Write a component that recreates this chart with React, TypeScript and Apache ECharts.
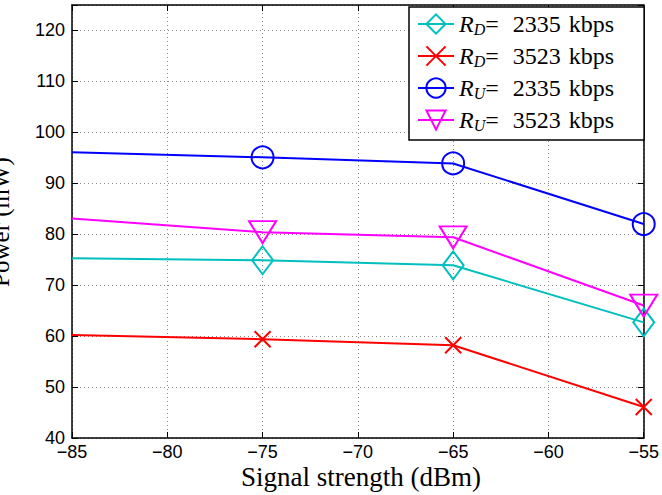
import React, { useEffect, useRef } from "react";
import * as echarts from "echarts";

const xValues = [-85, -75, -65, -55];
const rdLow = [75.3, 74.9, 73.9, 62.7];
const rdHigh = [60.2, 59.4, 58.2, 46.1];
const ruLow = [96.1, 95.1, 93.9, 82.0];
const ruHigh = [83.1, 80.4, 79.4, 66.0];
const seriesNames = ["RD2335", "RD3523", "RU2335", "RU3523"];
const legendSub = ["D", "D", "U", "U"];
const legendRate = ["2335", "3523", "2335", "3523"];
const xTicks = [-85, -80, -75, -70, -65, -60, -55];
const yTicks = [40, 50, 60, 70, 80, 90, 100, 110, 120];

const SERIF = "Liberation Serif";
const SANS = "Liberation Sans";

function toData(vals: number[]) {
  return vals.map((v, i) =>
    i === 0 ? { value: [xValues[i], v], symbol: "none" } : { value: [xValues[i], v] }
  );
}

export default function App() {
  const ref = useRef<HTMLDivElement>(null);
  useEffect(() => {
    if (!ref.current) return;
    const chart = echarts.init(ref.current, undefined, { renderer: "svg" });
    const mk = (
      name: string,
      vals: number[],
      color: string,
      symbol: string,
      size: any,
      rotate = 0
    ) => ({
      type: "line",
      name,
      data: toData(vals),
      clip: false,
      symbol,
      symbolSize: size,
      symbolRotate: rotate,
      showAllSymbol: true,
      lineStyle: { color, width: 2 },
      itemStyle: { color: "rgba(0,0,0,0)", borderColor: color, borderWidth: 2 },
      emphasis: { disabled: true },
    });
    const axisLine = { show: true, onZero: false, lineStyle: { color: "#000", width: 1.5 } };
    const tick = { show: true, inside: true, length: 6, lineStyle: { color: "#000", width: 1 } };
    const split = { show: true, lineStyle: { color: "#888", type: [1, 3], width: 1 } };
    const txt = { fontFamily: SERIF, fontSize: 24, lineHeight: 26, color: "#000" };
    chart.setOption({
      animation: false,
      backgroundColor: "#fff",
      grid: { left: 72, right: 11, top: 5, bottom: 57, containLabel: false },
      xAxis: [
        {
          type: "value",
          position: "bottom",
          min: xTicks[0],
          max: xTicks[xTicks.length - 1],
          interval: 5,
          axisLine,
          axisTick: tick,
          splitLine: split,
          axisLabel: {
            margin: 5,
            color: "#000",
            fontFamily: SANS,
            fontSize: 18,
            formatter: (v: number) => String(v).replace("-", "\u2212"),
          },
        },
        {
          type: "value",
          position: "top",
          min: xTicks[0],
          max: xTicks[xTicks.length - 1],
          interval: 5,
          axisLine,
          axisTick: tick,
          splitLine: { show: false },
          axisLabel: { show: false },
        },
      ],
      yAxis: [
        {
          type: "value",
          position: "left",
          min: yTicks[0],
          max: 125,
          interval: 10,
          axisLine,
          axisTick: tick,
          splitLine: split,
          axisLabel: {
            margin: 7,
            color: "#000",
            fontFamily: SANS,
            fontSize: 18,
            formatter: (v: number) => (yTicks.includes(v) ? String(v) : ""),
          },
        },
        {
          type: "value",
          position: "right",
          min: yTicks[0],
          max: 125,
          interval: 10,
          axisLine,
          axisTick: tick,
          splitLine: { show: false },
          axisLabel: { show: false },
        },
      ],
      legend: {
        orient: "vertical",
        left: 409,
        top: 7,
        padding: [5, 30, 7, 8],
        itemGap: 7,
        itemWidth: 36,
        itemHeight: 24,
        backgroundColor: "#fff",
        borderColor: "#000",
        borderWidth: 1.5,
        borderRadius: 0,
        data: seriesNames,
        formatter: (name: string) => {
          const i = seriesNames.indexOf(name);
          return `{r|R}{s|${legendSub[i]}}{t|=}{n|${legendRate[i]}}{k|kbps}`;
        },
        textStyle: {
          rich: {
            r: { ...txt, fontStyle: "italic" },
            s: {
              ...txt,
              fontStyle: "italic",
              fontSize: 16,
              verticalAlign: "bottom",
              padding: [9, 0, 0, 0],
            },
            t: { ...txt },
            n: { ...txt, padding: [0, 0, 0, 14] },
            k: { ...txt, padding: [0, 0, 0, 8] },
          },
        },
      },
      graphic: [
        {
          type: "text",
          x: 0,
          y: 222,
          rotation: Math.PI / 2,
          style: {
            text: "Power (mW)",
            fontFamily: SERIF,
            fontSize: 25,
            fill: "#000",
            align: "center",
            verticalAlign: "middle",
          },
        },
        {
          type: "text",
          x: 361,
          y: 477,
          style: {
            text: "Signal strength (dBm)",
            fontFamily: SERIF,
            fontSize: 27,
            fill: "#000",
            align: "center",
            verticalAlign: "middle",
          },
        },
      ],
      series: [
        mk(seriesNames[0], rdLow, "#00BFBF", "diamond", [21, 28]),
        mk(seriesNames[1], rdHigh, "#FF0000", "path://M0,0L10,10M10,0L0,10", [16, 16]),
        mk(seriesNames[2], ruLow, "#0000FF", "circle", 22),
        mk(seriesNames[3], ruHigh, "#FF00FF", "triangle", [27, 22], 180),
      ],
    });
    return () => chart.dispose();
  }, []);
  return (
    <div
      ref={ref}
      style={{ position: "fixed", left: 0, top: 0, width: 662, height: 495 }}
    />
  );
}
